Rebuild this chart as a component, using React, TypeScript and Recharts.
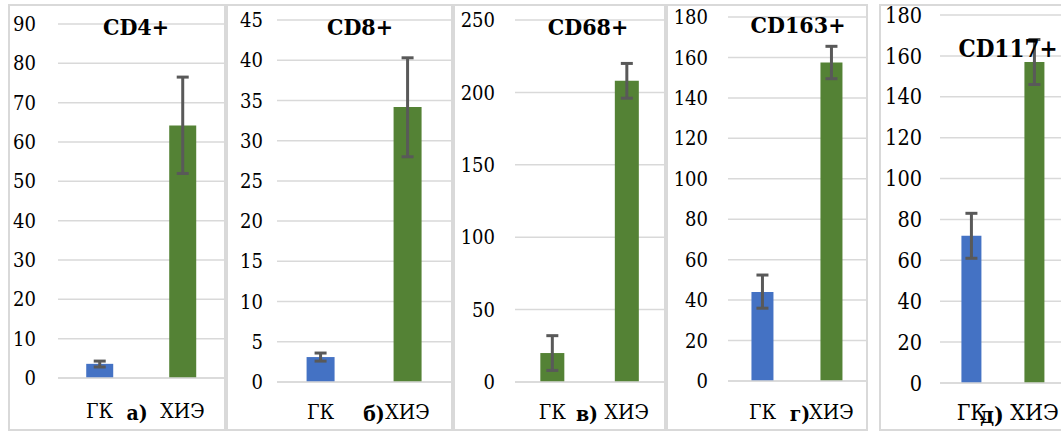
import React from "react";
import { BarChart, Bar, XAxis, YAxis, CartesianGrid, ErrorBar, Cell } from "recharts";

// categories shared by every panel
const categories = ["ГК", "ХИЭ"];

const titles = ["CD4+", "CD8+", "CD68+", "CD163+", "CD117+"];
const captions = ["а)", "б)", "в)", "г)", "д)"];

// mean values, [lower, upper] error deltas, y ticks
const cd4Values = [3.6, 64.2];
const cd4Errors = [[0.8, 0.7], [12.2, 12.3]];
const cd4Ticks = [0, 10, 20, 30, 40, 50, 60, 70, 80, 90];

const cd8Values = [3.1, 34.2];
const cd8Errors = [[0.5, 0.5], [6.2, 6.1]];
const cd8Ticks = [0, 5, 10, 15, 20, 25, 30, 35, 40, 45];

const cd68Values = [20, 208];
const cd68Errors = [[12, 12], [12, 12]];
const cd68Ticks = [0, 50, 100, 150, 200, 250];

const cd163Values = [44, 157.5];
const cd163Errors = [[8, 8.4], [8, 8]];
const cd163Ticks = [0, 20, 40, 60, 80, 100, 120, 140, 160, 180];

const cd117Values = [72, 157];
const cd117Errors = [[11, 11], [11, 11]];
const cd117Ticks = [0, 20, 40, 60, 80, 100, 120, 140, 160, 180];

const BLUE = "#4472C4";
const GREEN = "#548235";
const FONT = '"DejaVu Serif Condensed", "DejaVu Serif", serif';

interface PanelLayout {
  left: number;
  right: number;
  top: number;
  bottom: number;
  plotLeft: number;
  plotRight: number;
  plotTop: number;
  plotBottom: number;
  yGap: number;
  xGap: number;
  tickFont: number;
  catFont: number;
  titleX: number;
  titleY: number;
  titleFont: number;
  captionX: number;
  captionY: number;
  captionFont: number;
}

interface PanelProps {
  layout: PanelLayout;
  values: number[];
  errors: number[][];
  ticks: number[];
  colors: string[];
}

function Panel({ layout, values, errors, ticks, colors }: PanelProps) {
  const data = categories.map((c, i) => ({ name: c, value: values[i], err: errors[i] }));
  const L = layout;
  const chartW = L.right - L.left;
  const chartH = L.bottom;
  const xAxisH = 40;
  return (
    <>
      <div
        style={{
          position: "absolute",
          left: L.left,
          top: L.top,
          width: chartW,
          height: L.bottom - L.top,
          border: "2px solid #d9d9d9",
          boxSizing: "border-box",
        }}
      />
      <div style={{ position: "absolute", left: L.left, top: 0 }}>
        <BarChart
          width={chartW}
          height={chartH}
          data={data}
          barCategoryGap="34%"
          style={{ fontFamily: FONT }}
          margin={{
            top: L.plotTop,
            right: L.right - L.plotRight,
            left: 0,
            bottom: chartH - L.plotBottom - xAxisH,
          }}
        >
          <CartesianGrid vertical={false} stroke="#d9d9d9" strokeWidth={1.5} />
          <XAxis
            dataKey="name"
            interval={0}
            height={xAxisH}
            axisLine={{ stroke: "#d9d9d9", strokeWidth: 1.5 }}
            tickLine={false}
            tickSize={0}
            tickMargin={L.xGap}
            tick={{ fontSize: L.catFont, fill: "#000", fontFamily: FONT }}
          />
          <YAxis
            type="number"
            domain={[0, ticks[ticks.length - 1]]}
            ticks={ticks}
            interval={0}
            width={L.plotLeft - L.left}
            axisLine={false}
            tickLine={false}
            tickSize={0}
            tickMargin={L.yGap}
            tick={{ fontSize: L.tickFont, fill: "#000", fontFamily: FONT }}
          />
          <Bar dataKey="value" isAnimationActive={false}>
            {data.map((d, i) => (
              <Cell key={d.name} fill={colors[i]} />
            ))}
            <ErrorBar dataKey="err" width={6} strokeWidth={3} stroke="#595959" />
          </Bar>
        </BarChart>
      </div>
    </>
  );
}

const layouts: PanelLayout[] = [
  { left: 8, right: 226, top: 4, bottom: 431, plotLeft: 58, plotRight: 224, plotTop: 24, plotBottom: 378, yGap: 22, xGap: 25, tickFont: 20, catFont: 21, titleX: 136, titleY: 35, titleFont: 23, captionX: 137, captionY: 420, captionFont: 21 },
  { left: 226, right: 453, top: 4, bottom: 431, plotLeft: 277, plotRight: 451, plotTop: 20, plotBottom: 382, yGap: 14, xGap: 22, tickFont: 20, catFont: 21, titleX: 360, titleY: 35, titleFont: 23, captionX: 374, captionY: 421, captionFont: 21 },
  { left: 453, right: 666, top: 4, bottom: 431, plotLeft: 515, plotRight: 664, plotTop: 20, plotBottom: 382, yGap: 20, xGap: 22, tickFont: 20, catFont: 21, titleX: 588, titleY: 35, titleFont: 23, captionX: 587, captionY: 421, captionFont: 21 },
  { left: 666, right: 868, top: 4, bottom: 431, plotLeft: 728, plotRight: 866, plotTop: 17, plotBottom: 381, yGap: 20, xGap: 23, tickFont: 20, catFont: 21, titleX: 798, titleY: 33, titleFont: 23, captionX: 800, captionY: 421, captionFont: 21 },
  { left: 879, right: 1075, top: 4, bottom: 431, plotLeft: 940, plotRight: 1066, plotTop: 15, plotBottom: 383, yGap: 18, xGap: 21, tickFont: 21.5, catFont: 23, titleX: 1008, titleY: 57, titleFont: 24, captionX: 992, captionY: 423, captionFont: 23 },
];

export default function App() {
  return (
    <div
      style={{
        position: "fixed",
        left: 0,
        top: 0,
        width: 1061,
        height: 432,
        overflow: "hidden",
        background: "#fff",
        fontFamily: FONT,
      }}
    >
      <Panel layout={layouts[0]} values={cd4Values} errors={cd4Errors} ticks={cd4Ticks} colors={[BLUE, GREEN]} />
      <Panel layout={layouts[1]} values={cd8Values} errors={cd8Errors} ticks={cd8Ticks} colors={[BLUE, GREEN]} />
      <Panel layout={layouts[2]} values={cd68Values} errors={cd68Errors} ticks={cd68Ticks} colors={[GREEN, GREEN]} />
      <Panel layout={layouts[3]} values={cd163Values} errors={cd163Errors} ticks={cd163Ticks} colors={[BLUE, GREEN]} />
      <Panel layout={layouts[4]} values={cd117Values} errors={cd117Errors} ticks={cd117Ticks} colors={[BLUE, GREEN]} />
      {/* titles and panel letters */}
      <svg width={1061} height={432} style={{ position: "absolute", left: 0, top: 0, pointerEvents: "none", fontFamily: FONT }}>
        {layouts.map((L, i) => (
          <g key={titles[i]} style={{ fontFamily: FONT }} fontWeight="bold" fill="#000">
            <text x={L.titleX} y={L.titleY} textAnchor="middle" fontSize={L.titleFont}>
              {titles[i]}
            </text>
            <text x={L.captionX} y={L.captionY} textAnchor="middle" fontSize={L.captionFont}>
              {captions[i]}
            </text>
          </g>
        ))}
      </svg>
    </div>
  );
}
